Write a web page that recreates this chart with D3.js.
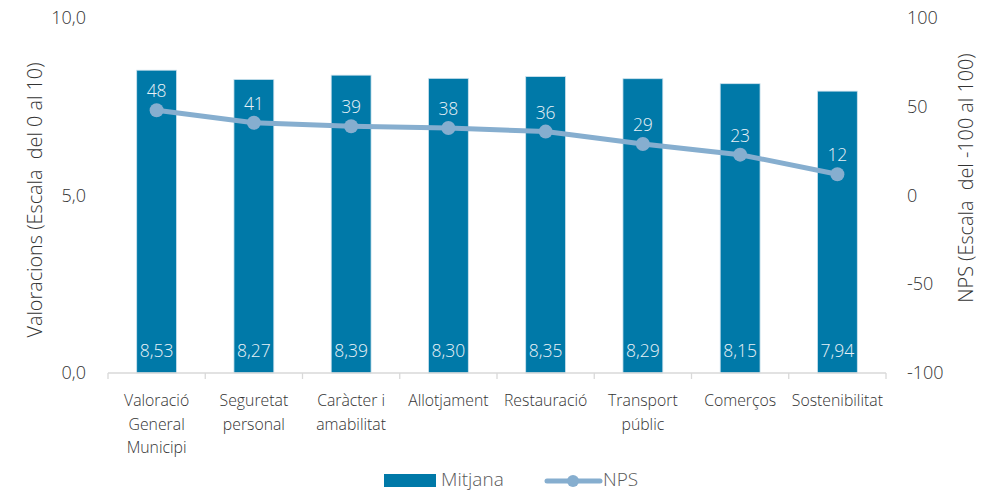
<!DOCTYPE html>
<html>
<head>
<meta charset="utf-8">
<script src="https://cdn.jsdelivr.net/npm/d3@7"></script>
<style>
  html, body { margin: 0; padding: 0; background: #fff; }
  svg { display: block; font-family: "Open Sans", "Noto Sans", sans-serif; }
</style>
</head>
<body>
<svg id="chart" width="993" height="491"></svg>
<script>
// Survey results per area: mean score (0–10) and NPS (−100..100)
const categories = [
  ["Valoració", "General", "Municipi"],
  ["Seguretat", "personal"],
  ["Caràcter i", "amabilitat"],
  ["Allotjament"],
  ["Restauració"],
  ["Transport", "públic"],
  ["Comerços"],
  ["Sostenibilitat"]
];
const mitjana = [8.53, 8.27, 8.39, 8.30, 8.35, 8.29, 8.15, 7.94];
const nps = [48, 41, 39, 38, 36, 29, 23, 12];
const leftTicks = [0, 5, 10];
const rightTicks = [-100, -50, 0, 50, 100];

const barColor = "#0079a8";
const lineColor = "#86aecf";
const textColor = "#333333";

const svg = d3.select("#chart");
const m = { left: 108, right: 886, top: 18, bottom: 373 };

const keys = categories.map((d, i) => i);
const x = d3.scaleBand().domain(keys).range([m.left, m.right]).paddingInner(0.59).paddingOuter(0.295);
const xs = d3.scaleBand().domain(keys).range([m.left, m.right]);
const yL = d3.scaleLinear().domain([0, 10]).range([m.bottom, m.top]);
const yR = d3.scaleLinear().domain([-100, 100]).range([m.bottom, m.top]);

const fmt = v => d3.format(".2f")(v).replace(".", ",");
const fmt1 = v => d3.format(".1f")(v).replace(".", ",");

// Bars
svg.append("g").selectAll("rect").data(mitjana).join("rect")
  .attr("x", (d, i) => x(i))
  .attr("width", x.bandwidth())
  .attr("y", d => yL(d))
  .attr("height", d => yL(0) - yL(d))
  .attr("fill", barColor)
  .attr("stroke", "#cfe3ee")
  .attr("stroke-width", 0.8);

// Bar value labels
svg.append("g").selectAll("text").data(mitjana).join("text")
  .attr("x", (d, i) => x(i) + x.bandwidth() / 2)
  .attr("y", yL(0) - 16)
  .attr("text-anchor", "middle")
  .attr("fill", "#e8f1f7")
  .attr("font-size", 17.5)
  .attr("font-weight", 300)
  .text(d => fmt(d));

// X axis baseline with category separators
const xAxis = svg.append("g").attr("transform", `translate(0,${m.bottom})`);
xAxis.append("line").attr("x1", m.left).attr("x2", m.right)
  .attr("stroke", "#d9d9d9").attr("stroke-width", 1.3);
xAxis.selectAll("line.tick").data(d3.range(categories.length + 1)).join("line")
  .attr("class", "tick")
  .attr("x1", i => m.left + i * xs.step()).attr("x2", i => m.left + i * xs.step())
  .attr("y1", 0).attr("y2", 6)
  .attr("stroke", "#d9d9d9").attr("stroke-width", 1.3);

// Category labels
const catG = svg.append("g").selectAll("text").data(categories).join("text")
  .attr("x", (d, i) => xs(i) + xs.bandwidth() / 2)
  .attr("y", 406)
  .attr("text-anchor", "middle")
  .attr("fill", textColor)
  .attr("font-size", 15.8)
  .attr("font-weight", 300);
catG.selectAll("tspan").data(d => d).join("tspan")
  .attr("x", function () { return d3.select(this.parentNode).attr("x"); })
  .attr("dy", (d, j) => j === 0 ? 0 : 23.5)
  .text(d => d);

// Left axis ticks
svg.append("g").selectAll("text").data(leftTicks).join("text")
  .attr("x", 86).attr("y", d => yL(d) + 6)
  .attr("text-anchor", "end")
  .attr("fill", textColor).attr("font-size", 18).attr("font-weight", 300)
  .text(d => fmt1(d));

// Right axis ticks
svg.append("g").selectAll("text").data(rightTicks).join("text")
  .attr("x", 907).attr("y", d => yR(d) + 6)
  .attr("text-anchor", "start")
  .attr("fill", textColor).attr("font-size", 18).attr("font-weight", 300)
  .text(d => d);

// Axis titles
svg.append("text")
  .attr("transform", "translate(42,200) rotate(-90)")
  .attr("text-anchor", "middle")
  .attr("fill", textColor).attr("font-size", 19.8).attr("font-weight", 300)
  .attr("xml:space", "preserve")
  .text("Valoracions (Escala  del 0 al 10)");
svg.append("text")
  .attr("transform", "translate(973,178) rotate(-90)")
  .attr("text-anchor", "middle")
  .attr("fill", textColor).attr("font-size", 19.8).attr("font-weight", 300)
  .attr("xml:space", "preserve")
  .text("NPS (Escala  del -100 al 100)");

// NPS line
const line = d3.line().x((d, i) => xs(i) + xs.bandwidth() / 2).y(d => yR(d));
svg.append("path").datum(nps)
  .attr("d", line)
  .attr("fill", "none")
  .attr("stroke", lineColor)
  .attr("stroke-width", 5)
  .attr("stroke-linejoin", "round");
svg.append("g").selectAll("circle").data(nps).join("circle")
  .attr("cx", (d, i) => xs(i) + xs.bandwidth() / 2)
  .attr("cy", d => yR(d))
  .attr("r", 7)
  .attr("fill", lineColor);

// NPS labels
svg.append("g").selectAll("text").data(nps).join("text")
  .attr("x", (d, i) => xs(i) + xs.bandwidth() / 2)
  .attr("y", d => yR(d) - 13)
  .attr("text-anchor", "middle")
  .attr("fill", "#e8f1f7")
  .attr("font-size", 17.5)
  .attr("font-weight", 300)
  .text(d => d);

// Legend
const lg = svg.append("g");
lg.append("rect").attr("x", 384).attr("y", 474).attr("width", 52).attr("height", 13).attr("fill", barColor);
lg.append("text").attr("x", 441).attr("y", 486).attr("fill", "#595959")
  .attr("font-size", 19).attr("font-weight", 300).text("Mitjana");
lg.append("line").attr("x1", 547).attr("x2", 600).attr("y1", 481).attr("y2", 481)
  .attr("stroke", lineColor).attr("stroke-width", 5).attr("stroke-linecap", "round");
lg.append("circle").attr("cx", 573).attr("cy", 481).attr("r", 6).attr("fill", lineColor);
lg.append("text").attr("x", 603).attr("y", 486).attr("fill", "#595959")
  .attr("font-size", 19).attr("font-weight", 300).text("NPS");
</script>
</body>
</html>
